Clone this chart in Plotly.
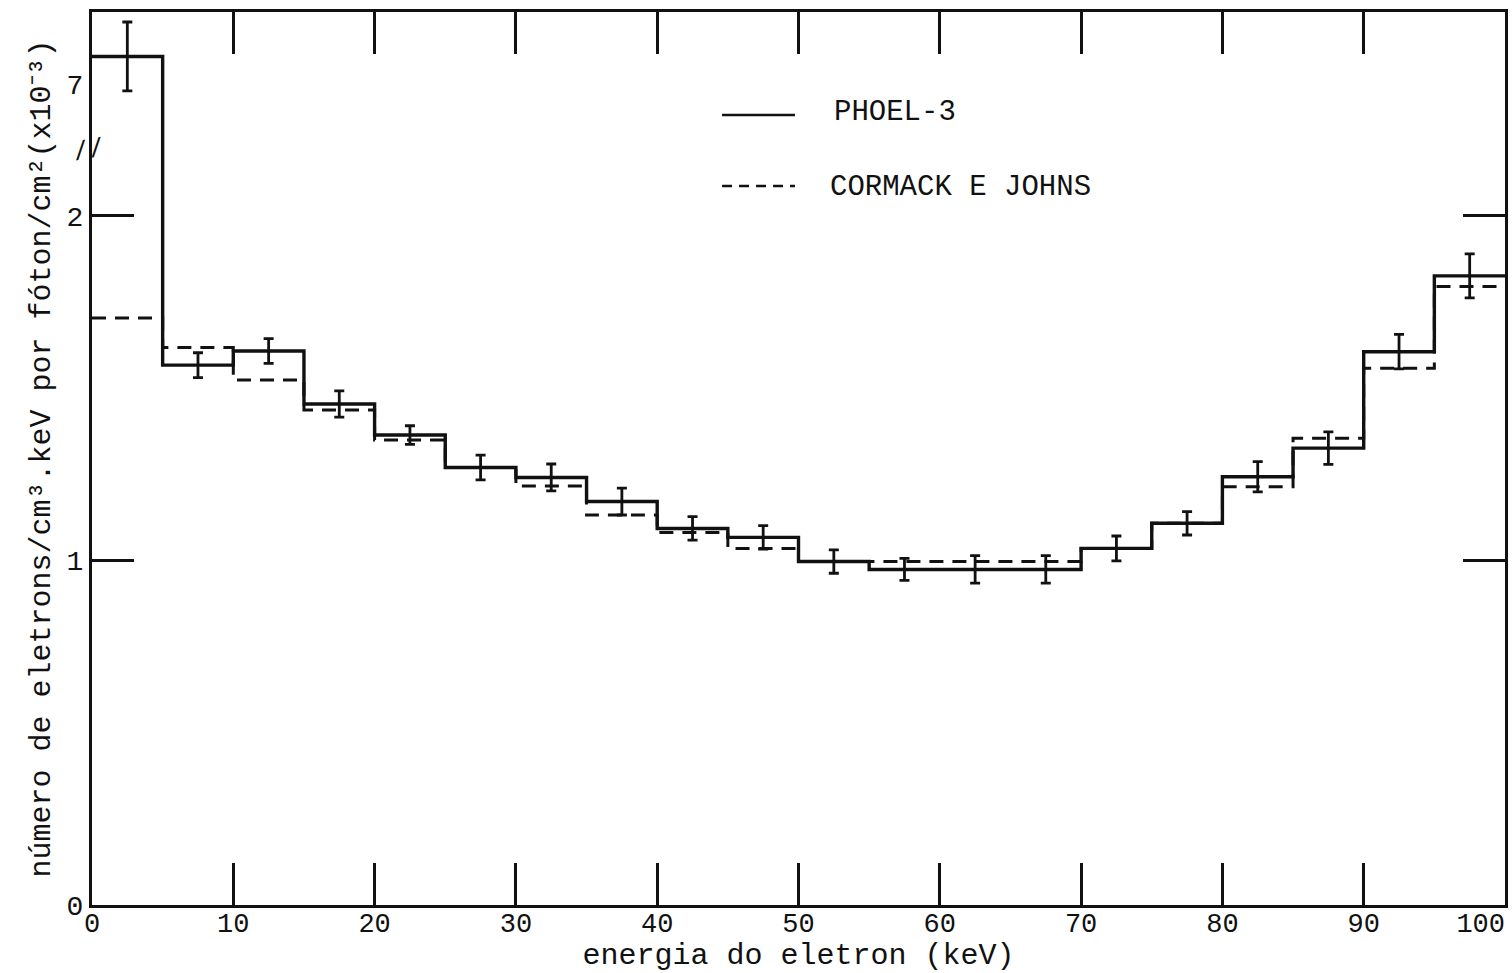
import plotly.graph_objects as go

# ---------------- data ----------------
bin_edges = [0, 5, 10, 15, 20, 25, 30, 35, 40, 45, 50, 55, 60, 65, 70, 75, 80, 85, 90, 95, 100]
phoel3 = [7.08, 1.567, 1.608, 1.454, 1.364, 1.270, 1.241, 1.171, 1.093, 1.067,
          0.997, 0.974, 0.974, 0.974, 1.035, 1.108, 1.243, 1.326, 1.606, 1.826]
phoel3_err = [0.10, 0.036, 0.036, 0.038, 0.027, 0.036, 0.039, 0.039, 0.034, 0.034,
              0.034, 0.032, 0.040, 0.040, 0.036, 0.034, 0.044, 0.047, 0.050, 0.064]
cormack_johns = [1.704, 1.618, 1.524, 1.437, 1.350, 1.270, 1.216, 1.132, 1.081, 1.035,
                 0.997, 0.997, 0.997, 0.997, 1.035, 1.108, 1.214, 1.355, 1.558, 1.795]
x_tick_vals = [0, 10, 20, 30, 40, 50, 60, 70, 80, 90, 100]
x_tick_text = ["0", "10", "20", "30", "40", "50", "60", "70", "80", "90", ""]
x_end_val = [100]
x_end_text = ["100"]
y_tick_real = [0, 1, 2, 7]

# broken y axis: values above the break are shifted down
BREAK_REAL = 7.0
BREAK_DISPLAY = 2.383
def disp(v):
    return v if v < 3 else BREAK_DISPLAY + (v - BREAK_REAL)

FONT = "Liberation Mono"
BLACK = "#111111"

def step_xy(vals):
    ys = [disp(v) for v in vals]
    return bin_edges, ys + [ys[-1]]

centers = [(a + b) / 2 for a, b in zip(bin_edges[:-1], bin_edges[1:])]

fig = go.Figure()
x1, y1 = step_xy(cormack_johns)
fig.add_trace(go.Scatter(x=x1, y=y1, mode="lines", line=dict(shape="hv", color=BLACK, width=3, dash="14px,9px"),
                         name="CORMACK E JOHNS", showlegend=False))
x2, y2 = step_xy(phoel3)
fig.add_trace(go.Scatter(x=x2, y=y2, mode="lines", line=dict(shape="hv", color=BLACK, width=3.4),
                         name="PHOEL-3", showlegend=False))
fig.add_trace(go.Scatter(x=centers, y=[disp(v) for v in phoel3], mode="markers",
                         marker=dict(size=1, color="rgba(0,0,0,0)"),
                         error_y=dict(type="data", array=phoel3_err, visible=True, color=BLACK,
                                      thickness=2.8, width=5),
                         showlegend=False, hoverinfo="skip"))
# empty trace so the overlay x axis (end label) is drawn
fig.add_trace(go.Scatter(x=[], y=[], xaxis="x2", yaxis="y", showlegend=False, hoverinfo="skip"))

# hand-made legend (line samples + text)
fig.add_shape(type="line", xref="paper", yref="paper", x0=0.4459, x1=0.4975, y0=0.8847, y1=0.8847,
              line=dict(color=BLACK, width=2.5))
fig.add_shape(type="line", xref="paper", yref="paper", x0=0.4459, x1=0.4975, y0=0.8052, y1=0.8052,
              line=dict(color=BLACK, width=2.5, dash="10px,7px"))
fig.add_annotation(text="PHOEL-3", xref="paper", yref="paper", x=0.5237, y=0.887, xanchor="left",
                   yanchor="middle", showarrow=False, font=dict(family=FONT, size=29, color=BLACK))
fig.add_annotation(text="CORMACK E JOHNS", xref="paper", yref="paper", x=0.5209, y=0.803, xanchor="left",
                   yanchor="middle", showarrow=False, font=dict(family=FONT, size=29, color=BLACK))
# axis break mark
fig.add_annotation(text="//", xref="x", yref="y", x=0, y=2.19, xshift=-4, showarrow=False,
                   font=dict(family=FONT, size=26, color=BLACK), textangle=-10)

fig.update_layout(
    width=1512, height=973,
    margin=dict(l=92, r=7, t=12, b=68),
    paper_bgcolor="white", plot_bgcolor="white",
    font=dict(family=FONT, size=28, color=BLACK),
    showlegend=False,
    xaxis2=dict(overlaying="x", anchor="y", side="bottom", range=[0, 100],
                tickvals=x_end_val, ticktext=x_end_text, ticks="", showline=False,
                showgrid=False, zeroline=False, automargin=False,
                ticklabelposition="outside left", ticklabelstandoff=-1,
                tickfont=dict(family=FONT, size=27, color=BLACK)),
)
fig.layout.xaxis.update(
    range=[0, 100], tickvals=x_tick_vals, ticktext=x_tick_text,
    ticks="inside", ticklen=42, tickwidth=2.5, tickcolor=BLACK,
    showline=True, linewidth=3, linecolor=BLACK, mirror="ticks",
    showgrid=False, zeroline=False, automargin=False,
    ticklabelstandoff=-8,
    tickfont=dict(family=FONT, size=27, color=BLACK),
    title=dict(text="energia do eletron (keV)",
               font=dict(family=FONT, size=30, color=BLACK), standoff=0),
)
fig.update_yaxes(
    range=[0, 2.592], tickvals=[disp(v) for v in y_tick_real], ticktext=[str(v) for v in y_tick_real],
    ticks="", showline=True, linewidth=3, linecolor=BLACK, mirror="ticks",
    minor=dict(tickvals=[1, 2], ticks="inside", ticklen=42, tickwidth=2.5, tickcolor=BLACK, showgrid=False),
    showgrid=False, zeroline=False, automargin=False,
    tickfont=dict(family=FONT, size=28, color=BLACK),
    title=dict(text="número de eletrons/cm³.keV por fóton/cm²(x10⁻³)",
               font=dict(family=FONT, size=30, color=BLACK), standoff=8),
)

fig.write_html("out.html")
